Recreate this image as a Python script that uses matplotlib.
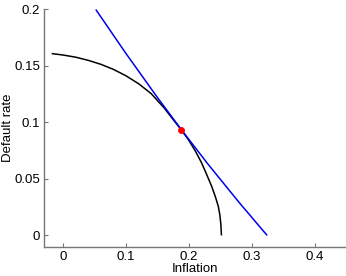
import matplotlib
matplotlib.use("Agg")
import matplotlib.pyplot as plt

# Frontier (black curve)
frontier_x = [-0.018, 0.000, 0.020, 0.040, 0.060, 0.080, 0.100, 0.120, 0.140, 0.160, 0.175,
              0.188, 0.199, 0.210, 0.220, 0.228, 0.236, 0.242, 0.2465, 0.2490, 0.2505, 0.2515]
frontier_y = [0.161, 0.1597, 0.1578, 0.1550, 0.1515, 0.1470, 0.1413, 0.1343, 0.1255, 0.1132, 0.1025,
              0.0933, 0.0848, 0.0748, 0.0642, 0.0540, 0.0434, 0.0340, 0.0257, 0.0180, 0.0100, 0.0]

# Tangent (blue) curve
tangent_x = [0.052, 0.100, 0.150, 0.188, 0.230, 0.280, 0.324]
tangent_y = [0.200, 0.161, 0.122, 0.0935, 0.0632, 0.0289, 0.0]

# Optimum point
opt_x = [0.188]
opt_y = [0.0933]

xticks = [0, 0.1, 0.2, 0.3, 0.4]
xticklabels = ["0", "0.1", "0.2", "0.3", "0.4"]
yticks = [0, 0.05, 0.1, 0.15, 0.2]
yticklabels = ["0", "0.05", "0.1", "0.15", "0.2"]

plt.rcParams['font.family'] = ['Liberation Sans', 'DejaVu Sans']

fig = plt.figure(figsize=(3.46, 2.76), dpi=100)
ax = fig.add_axes([0.1275, 0.106, 0.874, 0.8596])

ax.plot(frontier_x, frontier_y, color='black', lw=1.1, solid_capstyle='butt')
ax.plot(tangent_x, tangent_y, color='#0000ee', lw=1.1, solid_capstyle='butt')
ax.plot(opt_x, opt_y, 'o', color='red', markersize=5, markeredgewidth=0)

ax.set_xlim(-0.03, 0.45)
ax.set_ylim(-0.01, 0.2)
ax.set_xticks(xticks)
ax.set_xticklabels(xticklabels)
ax.set_yticks(yticks)
ax.set_yticklabels(yticklabels)

for s in ['top', 'right']:
    ax.spines[s].set_visible(False)
for s in ['left', 'bottom']:
    ax.spines[s].set_color('#777777')
    ax.spines[s].set_linewidth(1.0)

ax.tick_params(direction='in', length=3, width=0.8, color='#777777',
               labelsize=9.5, labelcolor='black', pad=3)

ax.set_xlabel('Inflation', fontsize=9.5)
ax.xaxis.set_label_coords(0.5, -0.093)
ax.xaxis.label.set_va('center')
ax.set_ylabel('Default rate', fontsize=9.5)
ax.yaxis.set_label_coords(-0.118, 0.5)
ax.yaxis.label.set_va('center')

fig.savefig('out.png', dpi=100)
